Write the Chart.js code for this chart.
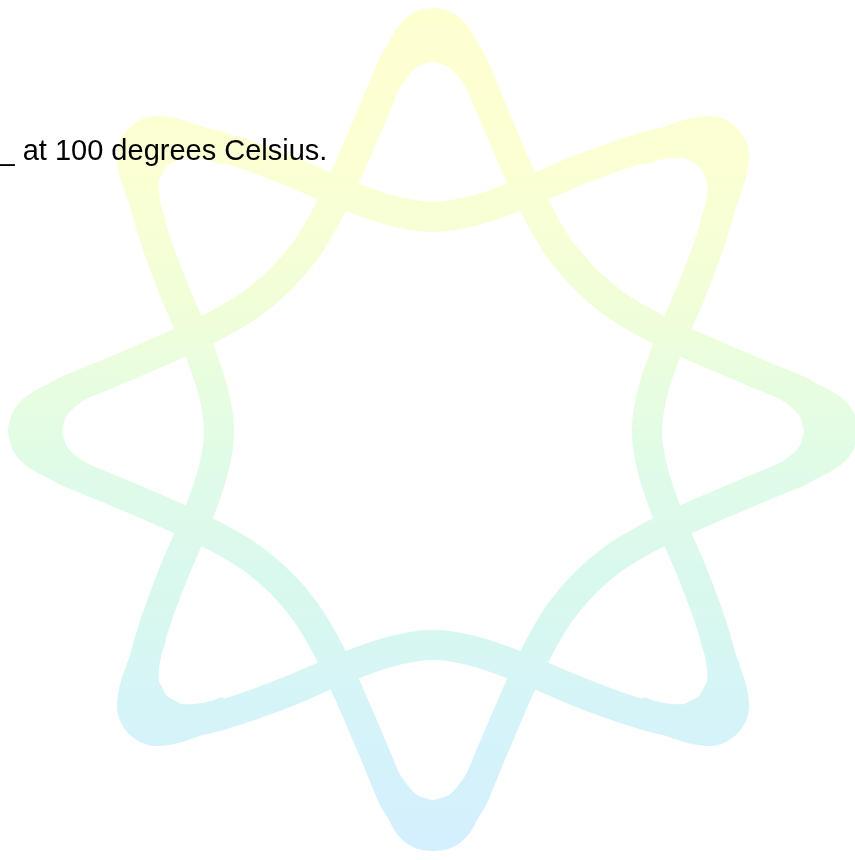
<!DOCTYPE html>
<html>
<head>
<meta charset="utf-8">
<script src="https://cdn.jsdelivr.net/npm/chart.js@4.4.1/dist/chart.umd.min.js"></script>
<style>
  html, body { margin: 0; padding: 0; background: #ffffff; overflow: hidden; }
  #wrap { position: relative; width: 855px; height: 860px; }
  #c { position: absolute; left: 0; top: 0; width: 855px; height: 860px; }
  #caption {
    position: absolute; left: -1.5px; top: 135.5px;
    font-family: "Liberation Sans", Arial, Helvetica, sans-serif;
    font-size: 29px; line-height: 29px; color: #000; white-space: nowrap;
  }
</style>
</head>
<body>
<div id="wrap">
  <canvas id="c" width="855" height="860"></canvas>
  <div id="caption"></div>
</div>
<script>
// ---- Values (page pixels) ----
const captionText = "_ at 100 degrees Celsius.";

// Cardinal star: centre line of the band (loop, first/last points overlap for a smooth join)
const starAX = [561,585,613,644,676,707,735,761,783,805,822,831,822,805,783,761,735,707,676,644,613,585,
                561,542,526,512,500,489,480,470,455,433,411,396,386,377,366,354,340,324,305,281,
                253,222,190,159,131,105,83,61,44,35,44,61,83,105,131,159,190,222,253,281,
                305,324,340,354,366,377,386,396,411,433,455,470,480,489,500,512,526,542,561,585,613];
const starAY = [251,279,303,322,338,352,364,375,384,394,409,431,453,468,478,487,498,510,524,540,559,583,
                611,642,674,705,733,759,781,803,820,827,820,803,781,759,733,705,674,642,611,583,
                559,540,524,510,498,487,478,468,453,431,409,394,384,375,364,352,338,322,303,279,
                251,220,188,157,129,103,81,59,42,35,42,59,81,103,129,157,188,220,251,279,303];

// Diagonal star: centre line of the band
const starBX = [397,433,469,504,539,574,608,638,665,689,713,724,722,715,705,692,677,663,652,647,
                652,663,677,692,705,715,722,724,713,689,665,638,608,574,539,504,469,433,
                397,362,327,292,258,228,201,177,153,142,144,151,161,174,189,203,214,219,
                214,203,189,174,161,151,144,142,153,177,201,228,258,292,327,362,397,433,469];
const starBY = [212,217,212,201,187,172,159,149,142,140,151,175,199,226,256,290,325,360,395,431,
                467,502,537,572,606,636,663,687,711,722,720,713,703,690,675,661,650,645,
                650,661,675,690,703,713,720,722,711,687,663,636,606,572,537,502,467,431,
                395,360,325,290,256,226,199,175,151,140,142,149,159,172,187,201,212,217,212];

// Outline of the thick rounded tips (outer edge, then inner edge)
const tipTopX    = [364,376,390,397,406,418,433,448,460,469,476,490,502,502,473,473,465,457,449,441,433,425,417,409,401,393];
const tipTopY    = [100,70,40,28,18,11,8,11,18,28,40,70,100,100,100,100,86,75,67,64,62,64,67,75,86,100];
const tipRightX  = [766,796,826,838,848,855,858,855,848,838,826,796,766,766,766,766,780,791,799,802,804,802,799,791,780,766];
const tipRightY  = [362,374,388,395,404,416,431,446,458,467,474,488,500,500,471,471,463,455,447,439,431,423,415,407,399,391];
const tipBottomX = [364,376,390,397,406,418,433,448,460,469,476,490,502,502,473,473,465,457,449,441,433,425,417,409,401,393];
const tipBottomY = [762,792,822,834,843,849,851,849,843,834,822,792,762,762,762,762,776,787,795,798,800,798,795,787,776,762];
const tipLeftX   = [100,70,40,28,18,11,8,11,18,28,40,70,100,100,100,100,86,75,67,64,62,64,67,75,86,100];
const tipLeftY   = [362,374,388,395,404,416,431,446,458,467,474,488,500,500,471,471,463,455,447,439,431,423,415,407,399,391];
const tipTLX = [145,132,121,118,117,120,129,142,155,168,182,213,243,243,222,222,207,193,182,174,167,163,159,159,161,166];
const tipTLY = [242,212,181,168,154,141,128,119,116,117,120,131,144,144,165,165,160,158,158,162,166,173,181,192,206,221];
const tipTRX = [721,734,745,748,749,746,737,724,711,698,684,653,623,623,644,644,659,673,684,692,699,703,707,707,705,700];
const tipTRY = [242,212,181,168,154,141,128,119,116,117,120,131,144,144,165,165,160,158,158,162,166,173,181,192,206,221];
const tipBLX = [145,132,121,118,117,120,129,142,155,168,182,213,243,243,222,222,207,193,182,174,167,163,159,159,161,166];
const tipBLY = [620,650,681,694,708,721,734,743,746,745,742,731,718,718,697,697,702,704,704,700,696,689,681,670,656,641];
const tipBRX = [721,734,745,748,749,746,737,724,711,698,684,653,623,623,644,644,659,673,684,692,699,703,707,707,705,700];
const tipBRY = [620,650,681,694,708,721,734,743,746,745,742,731,718,718,697,697,702,704,704,700,696,689,681,670,656,641];

document.getElementById('caption').textContent = captionText;

const toPts = (xs, ys) => xs.map((x, i) => ({x: x, y: ys[i]}));

const canvas = document.getElementById('c');
const g2d = canvas.getContext('2d');
const grad = g2d.createLinearGradient(0, 0, 0, 860);
grad.addColorStop(0.00, '#FFFFD0');
grad.addColorStop(0.20, '#FBFFD3');
grad.addColorStop(0.38, '#EEFEDA');
grad.addColorStop(0.52, '#E1FCE6');
grad.addColorStop(0.70, '#D8F8EF');
grad.addColorStop(0.85, '#D5F3F9');
grad.addColorStop(1.00, '#D4EFFF');

const bandStyle = {
  showLine: true, pointRadius: 0, pointHoverRadius: 0,
  borderColor: grad, borderWidth: 30,
  borderCapStyle: 'round', borderJoinStyle: 'round',
  tension: 0.4, fill: false
};
const tipStyle = {
  showLine: true, pointRadius: 0, pointHoverRadius: 0,
  borderWidth: 0, backgroundColor: grad,
  tension: 0.3, fill: 'shape'
};

const tips = [
  ['Top tip', tipTopX, tipTopY], ['Right tip', tipRightX, tipRightY],
  ['Bottom tip', tipBottomX, tipBottomY], ['Left tip', tipLeftX, tipLeftY],
  ['Top-left tip', tipTLX, tipTLY], ['Top-right tip', tipTRX, tipTRY],
  ['Bottom-left tip', tipBLX, tipBLY], ['Bottom-right tip', tipBRX, tipBRY]
];

const datasets = [
  Object.assign({ label: 'Diagonal star', data: toPts(starBX, starBY) }, bandStyle),
  Object.assign({ label: 'Cardinal star', data: toPts(starAX, starAY) }, bandStyle)
].concat(tips.map(t => Object.assign({ label: t[0], data: toPts(t[1], t[2]) }, tipStyle)));

new Chart(canvas, {
  type: 'scatter',
  data: { datasets: datasets },
  options: {
    responsive: false,
    animation: false,
    events: [],
    layout: { padding: 0 },
    plugins: { legend: { display: false }, tooltip: { enabled: false }, title: { display: false } },
    scales: {
      x: { type: 'linear', min: 0, max: 855, display: false },
      y: { type: 'linear', min: 0, max: 860, reverse: true, display: false }
    }
  }
});
</script>
</body>
</html>
